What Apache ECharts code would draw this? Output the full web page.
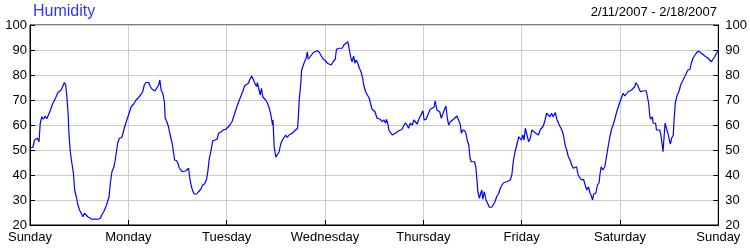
<!DOCTYPE html>
<html><head><meta charset="utf-8">
<script src="https://cdn.jsdelivr.net/npm/echarts@6/dist/echarts.min.js"></script>
<style>html,body{margin:0;padding:0;background:#fff}#c{width:750px;height:250px}</style>
</head><body><div id="c"></div>
<script>
var dayLabels = ['Sunday','Monday','Tuesday','Wednesday','Thursday','Friday','Saturday','Sunday'];
var yTicks = [20,30,40,50,60,70,80,90,100];
var hours = [0,0.2,0.7,1.1,1.8,2.2,2.5,2.9,3.3,3.7,4.1,4.5,5.0,5.4,5.8,6.3,6.8,7.2,7.6,8.0,8.4,8.7,9.0,9.3,9.5,9.8,10.1,10.6,10.9,11.3,11.7,12.1,12.5,12.9,13.3,13.7,14.1,14.5,15.1,15.7,16.6,17.2,17.5,18.0,18.6,19.0,19.3,19.6,20.0,20.5,20.8,21.1,21.4,21.8,22.4,22.7,23.1,23.5,23.9,24.3,24.7,25.3,25.9,26.5,27.0,27.5,
27.9,28.3,29.0,29.3,29.8,30.2,30.5,30.9,31.4,31.7,32.0,32.4,32.8,33.0,33.4,33.8,34.2,34.7,35.0,35.3,35.8,36.1,36.4,36.8,37.3,37.7,38.1,38.4,38.7,39.0,39.4,39.7,40.1,40.7,41.1,41.7,42.1,42.6,43.1,43.4,43.7,44.2,44.6,45.2,45.7,46.0,46.6,47.2,47.8,48.3,48.8,49.3,49.7,50.1,50.5,51.1,51.5,51.9,52.4,52.8,53.3,53.6,54.1,54.5,54.9,55.3,55.5,55.9,56.2,
56.5,56.8,57.1,57.5,57.9,58.4,58.8,59.0,59.2,59.3,59.6,60.0,60.4,60.8,61.2,61.6,62.0,62.4,62.8,63.2,63.6,64.0,64.4,64.8,65.3,65.5,65.7,66.1,66.3,66.7,67.0,67.4,67.7,67.9,68.3,68.7,69.1,69.5,70.1,70.6,71.1,71.6,72.1,72.6,73.0,73.5,74.0,74.5,74.8,75.4,76.2,76.6,77.0,77.6,77.8,78.1,78.4,78.6,79.0,79.3,79.6,80.0,80.4,80.8,81.2,81.5,81.9,82.3,82.8,83.1,83.5,83.9,84.2,
84.7,85.1,85.5,85.9,86.4,86.8,87.0,87.3,87.6,88.0,88.4,88.8,89.2,89.6,90.0,90.4,90.8,91.2,91.6,92.0,92.4,92.8,93.3,93.7,94.1,94.5,94.9,95.3,95.7,95.9,96.2,96.7,97.0,97.3,97.7,98.1,98.6,98.9,99.3,99.6,100.0,100.4,100.7,101.1,101.5,101.9,102.2,102.6,103.0,103.4,103.8,104.2,104.6,105.0,105.3,105.6,106.1,106.4,106.7,107.1,107.4,107.7,108.1,108.5,108.8,109.1,109.3,109.7,110.0,110.3,110.5,110.9,111.3,111.7,112.1,
112.7,113.1,113.5,113.9,114.4,114.8,115.2,115.6,116.0,116.4,116.8,117.2,117.6,118.0,118.4,118.7,119.0,119.3,119.6,119.9,120.3,120.6,120.9,121.3,121.7,122.1,122.5,122.9,123.3,123.7,124.1,124.5,124.9,125.3,125.7,126.1,126.5,126.9,127.3,127.7,128.2,128.6,129.0,129.4,129.8,130.2,130.6,131.0,131.4,131.8,132.2,132.6,133.0,133.4,133.8,134.2,134.6,135.1,135.5,135.9,136.3,136.7,137.1,137.3,137.6,138.1,138.5,138.9,139.1,139.4,139.8,140.1,
140.3,140.7,141.1,141.5,141.9,142.4,142.8,143.2,143.6,144.0,144.4,144.8,145.2,145.6,146.0,146.4,146.8,147.2,147.6,147.9,148.3,148.6,149.0,149.4,149.9,150.4,150.7,151.0,151.3,151.5,151.9,152.1,152.3,152.7,152.9,153.3,153.7,154.0,154.3,154.5,154.8,155.0,155.3,155.7,156.0,156.3,156.6,157.0,157.2,157.5,157.9,158.2,158.5,158.8,159.2,159.5,159.8,160.2,160.6,161.1,161.4,161.8,162.2,162.6,163.1,163.5,163.9,164.3,164.7,165.1,165.5,165.9,166.3,166.7,167.1,167.5,167.9,168];
var humidity = [51,51.3,51,54,54.7,53.3,60.7,63.3,62.3,63.6,62.5,63.3,66,68,69.3,71,73,73.7,74,74.7,77,76,71.3,64.7,56.7,50,46,40.7,34,31.3,28,26,24.7,23.3,24.7,24,23.3,22.7,22.3,22.4,22.3,22.7,24,25.3,27.6,28,31.3,36.7,41.3,43.3,46,49.3,52.7,54.7,55,56.7,59.3,61.3,63.3,65.3,67.3,68.4,70,71,72,73.3,
76,77,77,75.6,74.3,74.7,73.6,74.7,76,78,74,72.7,69.3,62.7,61.3,59.3,56,52.7,49.3,46,45.7,44.7,43,42,41.3,40.7,41.7,42.3,42.7,38.7,35.3,33.7,32.4,32.4,33.3,34.3,36,36.4,38.3,41.3,46,50,53.7,54,54.4,56.7,57.2,58,58.3,59.1,60,61.3,63.3,65.3,67.3,70,70.4,73.3,75.7,76,76.7,78,79.6,79,76.7,75.3,77,76.4,72,
74.7,71.3,71.6,70,69,66.7,64,62,60,62,51.3,47.1,46.9,49.3,52.4,54,55,56,55,56,55.6,56.7,57.3,58,58.7,63.3,70,76.7,82,82.3,85.3,86.7,89.3,86.3,87.1,88,88.9,89.7,89.7,89.1,87.6,86.3,85.7,84.7,84,84,85.3,86.3,90.3,90.7,90.7,92,92.7,93.3,94,88.7,86.3,85.3,87.6,84.7,86,84.7,82.7,81.3,78.7,75.6,73.3,72.7,70.7,68.7,66.3,66,65.3,
62.7,62,62.3,61.3,62,60.7,62.3,60.7,58,57.7,56,55.3,56.7,57.3,57.7,58,58.3,59.6,60.9,60,58.7,60.7,60,62,62.3,60.4,62.3,63.6,64.4,65.7,62,62.3,63.6,64.4,66.3,66.3,67.1,69.7,66,66,65.3,62.7,62.3,66,67.6,62.3,60,61.3,62,62.3,62.7,63.6,62,60.4,56.7,58,57.7,56.7,54,52,46.7,45.3,44.7,45.3,43.3,38,33.3,30.7,32.7,34,30.3,33.3,30,28.7,27.1,
27.1,26.7,29.3,31.3,32.7,34.7,36,36.9,36.4,37.3,36.9,38,40,46,49.3,50,53.3,55.3,56,54,56,54,58.7,56,53.3,54.7,58,57.3,56.9,56.9,56,58,58.3,59.6,62,64.7,64.4,63.3,64.7,63.3,65,62.3,60.7,59.3,58,56,52,50,47.3,46,44,42.7,42,43.3,40,39.3,38,38.3,36,34,35.3,32.7,31.3,30,32.4,32.7,36,36.9,40,43.3,42,42.7,
43.3,47.3,51.3,55,58,60.4,62.7,65.3,67.3,69.3,71,72.7,71.6,72.4,73.3,74,74,74.7,75.3,76.9,76,74.7,73.3,74,73.7,73.7,73.3,68.7,63.3,62.3,63.3,60.7,61.3,60.7,58,58.7,58,56,52,49.3,56,60.7,60.9,56.7,54.3,52.4,54.7,56,62,68.7,71.6,72.7,74,76,77.3,78.3,79.3,80.7,82,82.3,84.7,86.7,87.3,88.7,89.6,89.3,88.7,88,87.6,87.3,86.7,86,85.3,86.3,87.3,88,89.7,89.3];
var title = 'Humidity';
var dateRange = '2/11/2007 - 2/18/2007';

var pts = hours.map(function(h,i){return [h, humidity[i]];});
var font = 'Liberation Sans, Arial, sans-serif';
var chart = echarts.init(document.getElementById('c'), null, {renderer:'canvas'});
var yAxisBase = function(pos){
  return {
    type:'value', position:pos, min:20, max:100, interval:10,
    axisLine:{show:true, lineStyle:{color:'#000', width:1}},
    axisTick:{show:true, inside:true, length:5, lineStyle:{color:'#000'}},
    axisLabel:{color:'#000', fontFamily:font, fontSize:13, margin: pos==='left' ? 3 : 7},
    splitLine:{show: pos==='left', lineStyle:{color:'#cccccc', width:1}}
  };
};
chart.setOption({
  animation:false,
  backgroundColor:'#fff',
  title:[
    {text:title, left:33, top:4, padding:0, textStyle:{color:'#3333ff', fontFamily:font, fontSize:16, fontWeight:'normal'}},
    {text:dateRange, right:33, top:6, padding:0, textStyle:{color:'#000', fontFamily:font, fontSize:13, fontWeight:'normal'}}
  ],
  grid:{left:30, right:30, top:25, bottom:25, show:true, borderColor:'#000', borderWidth:1, containLabel:false},
  xAxis:{
    type:'value', min:0, max:168, interval:24,
    axisLine:{show:true, onZero:false, lineStyle:{color:'#000'}},
    axisTick:{show:true, inside:true, length:5, lineStyle:{color:'#000'}},
    axisLabel:{color:'#000', fontFamily:font, fontSize:13, margin:6,
      formatter:function(v){return dayLabels[Math.round(v/24)];}},
    splitLine:{show:true, lineStyle:{color:'#cccccc', width:1}}
  },
  yAxis:[yAxisBase('left'), yAxisBase('right')],
  series:[{
    type:'line', data:pts, showSymbol:false, symbol:'none', smooth:false,
    lineStyle:{color:'#0000ff', width:1.2}, z:5
  }]
});
</script></body></html>
